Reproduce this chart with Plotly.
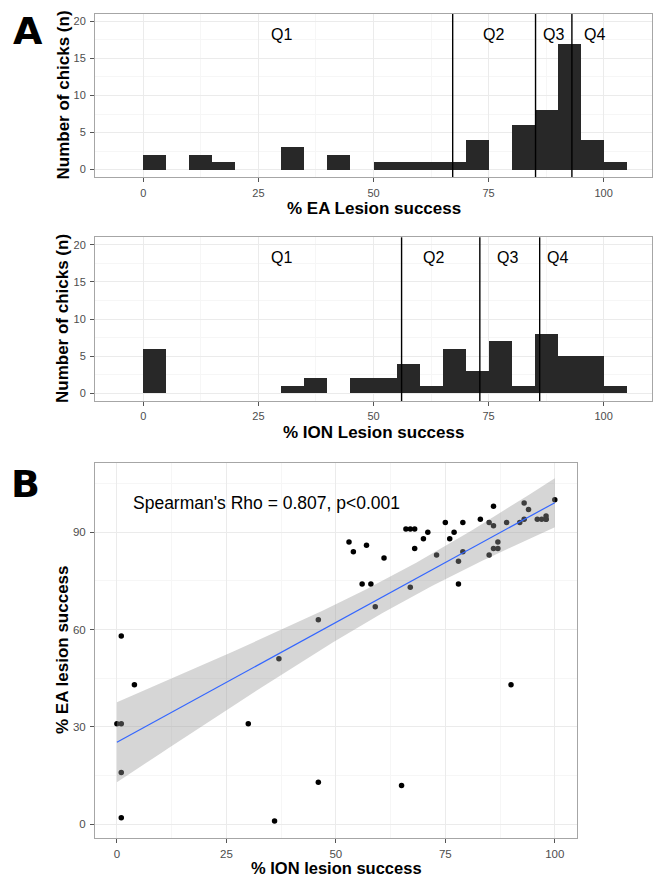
import numpy as np
import plotly.graph_objects as go

# ---------------- data ----------------
bin_starts = [0, 5, 10, 15, 20, 25, 30, 35, 40, 45, 50, 55, 60, 65, 70, 75, 80, 85, 90, 95, 100]
bin_width = 5
ea_counts = [2, 0, 2, 1, 0, 0, 3, 0, 2, 0, 1, 1, 1, 1, 4, 0, 6, 8, 17, 4, 1]
ion_counts = [6, 0, 0, 0, 0, 0, 1, 2, 0, 2, 2, 4, 1, 6, 3, 7, 1, 8, 5, 5, 1]

ea_quartile_lines = [67.2, 85.2, 93.1]
ion_quartile_lines = [56.1, 73.1, 86.1]
q_labels = ["Q1", "Q2", "Q3", "Q4"]
ea_q_label_x = [30, 76, 89, 98]
ion_q_label_x = [30, 63, 79, 90]
q_label_y = 18.3

ion_pct = [0, 1, 4, 1, 1, 30, 46, 36, 65, 90, 1, 37, 46,
           53, 54, 57, 56, 58, 59, 61, 66, 67, 68, 67, 68, 70, 71, 73, 75, 76, 77, 78, 78, 79, 79,
           83, 85, 86, 86, 85, 86, 87, 87, 89, 92, 93, 93, 94, 96, 98, 98, 100, 97, 98]
ea_pct = [31, 31, 43, 16, 2, 31, 13, 1, 12, 43, 58, 51, 63,
          87, 84, 86, 74, 74, 67, 82, 91, 91, 91, 73, 85, 88, 90, 83, 93, 88, 90, 81, 74, 93, 84,
          94, 93, 98, 92, 83, 85, 85, 87, 93, 93, 94, 99, 97, 94, 95, 94, 100, 94, 94]

hist_x_ticks = [0, 25, 50, 75, 100]
hist_y_ticks = [0, 5, 10, 15, 20]
sc_x_ticks = [0, 25, 50, 75, 100]
sc_y_ticks = [0, 30, 60, 90]

# ---------------- geometry ----------------
W, H = 655, 876
def fx(px):
    return px / W
def fy(py):
    return 1 - py / H

FONT = "Liberation Sans, Arial, Helvetica, sans-serif"
BAR = "#282828"
BORDER = "#a6a6a6"
GRID = "#ebebeb"
MINOR = "#f6f6f6"
TICKC = "#4d4d4d"

fig = go.Figure()

centers = [b + bin_width / 2 for b in bin_starts]
fig.add_trace(go.Bar(x=centers, y=ea_counts, width=bin_width, marker=dict(color=BAR, line=dict(width=0)),
                     xaxis="x", yaxis="y", showlegend=False))
fig.add_trace(go.Bar(x=centers, y=ion_counts, width=bin_width, marker=dict(color=BAR, line=dict(width=0)),
                     xaxis="x2", yaxis="y2", showlegend=False))

# scatter
fig.add_trace(go.Scatter(x=ion_pct, y=ea_pct, mode="markers",
                         marker=dict(color="black", size=5.5, line=dict(width=0)),
                         xaxis="x3", yaxis="y3", showlegend=False))

# linear fit with 95% CI (as geom_smooth(method="lm"))
xa = np.array(ion_pct, float)
ya = np.array(ea_pct, float)
n = len(xa)
b1, b0 = np.polyfit(xa, ya, 1)
xs = np.linspace(xa.min(), xa.max(), 80)
yhat = b0 + b1 * xs
resid = ya - (b0 + b1 * xa)
s = np.sqrt(np.sum(resid ** 2) / (n - 2))
xm = xa.mean()
sxx = np.sum((xa - xm) ** 2)
se = s * np.sqrt(1 / n + (xs - xm) ** 2 / sxx)
t = 2.0066
up = yhat + t * se
lo = yhat - t * se
fig.add_trace(go.Scatter(x=list(xs) + list(xs[::-1]), y=list(up) + list(lo[::-1]), fill="toself",
                         fillcolor="rgba(153,153,153,0.4)", line=dict(width=0), mode="lines",
                         hoverinfo="skip", xaxis="x3", yaxis="y3", showlegend=False))
fig.add_trace(go.Scatter(x=xs, y=yhat, mode="lines", line=dict(color="#3366FF", width=1.2),
                         xaxis="x3", yaxis="y3", showlegend=False))

def axis_common(tickvals, rng, minor_vals, domain, anchor, fsize=11, standoff=2):
    return dict(range=rng, domain=domain, anchor=anchor, tickmode="array", tickvals=tickvals,
                ticktext=[str(v) for v in tickvals], showgrid=True, gridcolor=GRID, gridwidth=1,
                minor=dict(tickmode="array", tickvals=minor_vals, showgrid=True, gridcolor=MINOR, ticks=""),
                zeroline=False, showline=True, linecolor=BORDER, linewidth=1, mirror=True,
                ticks="outside", ticklen=4, tickcolor="#555", tickwidth=1,
                tickfont=dict(family=FONT, size=fsize, color=TICKC), ticklabelstandoff=standoff)

hx_dom = [fx(95), fx(652)]
hx_minor = [-12.5, 12.5, 37.5, 62.5, 87.5, 112.5]
hy_minor = [2.5, 7.5, 12.5, 17.5]
fig.update_layout(
    width=W, height=H, margin=dict(l=0, r=0, t=0, b=0), plot_bgcolor="white", paper_bgcolor="white",
    bargap=0, showlegend=False,
    xaxis=axis_common(hist_x_ticks, [-10.5, 110.5], hx_minor, hx_dom, "y"),
    yaxis=axis_common(hist_y_ticks, [-1, 21], hy_minor, [fy(177), fy(14)], "x"),
    xaxis2=axis_common(hist_x_ticks, [-10.5, 110.5], hx_minor, hx_dom, "y2", standoff=1),
    yaxis2=axis_common(hist_y_ticks, [-1, 21], hy_minor, [fy(401), fy(237.3)], "x2"),
    xaxis3=axis_common(sc_x_ticks, [-5, 105], [12.5, 37.5, 62.5, 87.5], [fx(95), fx(576.7)], "y3", 11.5, 1),
    yaxis3=axis_common(sc_y_ticks, [-4.3, 111.3], [15, 45, 75, 105], [fy(838.3), fy(463)], "x3", 11.5),
)

# quartile lines
for q in ea_quartile_lines:
    fig.add_shape(type="line", x0=q, x1=q, y0=0, y1=1, xref="x", yref="y domain",
                  line=dict(color="black", width=1.4))
for q in ion_quartile_lines:
    fig.add_shape(type="line", x0=q, x1=q, y0=0, y1=1, xref="x2", yref="y2 domain",
                  line=dict(color="black", width=1.4))

ann = []
for lab, xv in zip(q_labels, ea_q_label_x):
    ann.append(dict(x=xv, y=q_label_y, xref="x", yref="y", text=lab, showarrow=False,
                    font=dict(family=FONT, size=16, color="black")))
for lab, xv in zip(q_labels, ion_q_label_x):
    ann.append(dict(x=xv, y=q_label_y, xref="x2", yref="y2", text=lab, showarrow=False,
                    font=dict(family=FONT, size=16, color="black")))

ann.append(dict(x=34.1, y=99.1, xref="x3", yref="y3", text="Spearman's Rho = 0.807, p<0.001",
                showarrow=False, font=dict(family=FONT, size=17.5, color="black")))

TF = dict(family=FONT, size=17, color="black", weight="bold")
def txt(x, y, s, angle=0, font=TF):
    ann.append(dict(x=fx(x), y=fy(y), xref="paper", yref="paper", text=s, showarrow=False,
                    textangle=angle, font=font, xanchor="center", yanchor="middle"))

txt(373.5, 208.5, "% EA Lesion success")
txt(63, 95.5, "Number of chicks (n)", -90)
txt(373.5, 432, "% ION Lesion success")
txt(63, 319, "Number of chicks (n)", -90)
txt(336, 867.5, "% ION lesion success", font=dict(TF, size=16.5))
txt(62, 650, "% EA lesion success", -90)

PF = dict(family="DejaVu Sans, Liberation Sans, sans-serif", size=38, color="black", weight="bold")
txt(28, 31, "A", font=PF)
txt(25, 484, "B", font=PF)

fig.update_layout(annotations=ann)
fig.write_html("out.html")
